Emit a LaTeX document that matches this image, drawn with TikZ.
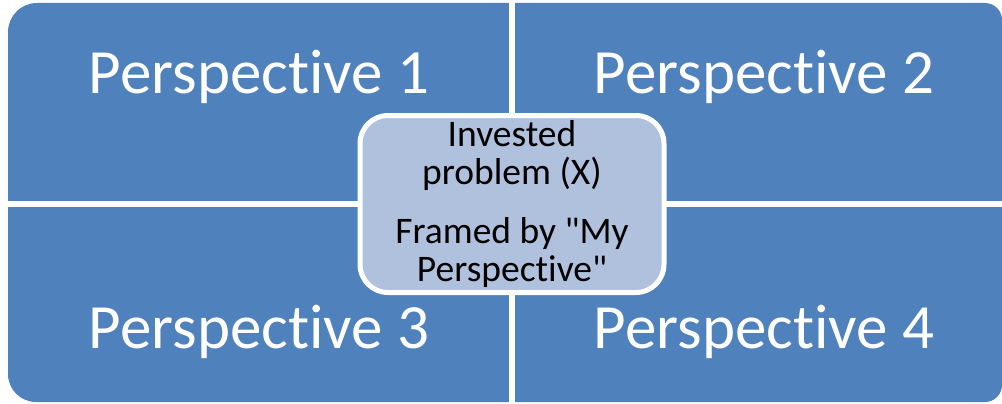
\documentclass[tikz,border=0pt]{standalone}
\usepackage{fontspec}
\setmainfont{Carlito}[Ligatures={NoCommon,TeXOff}]
\definecolor{quadblue}{RGB}{79,129,189}
\definecolor{probfill}{RGB}{176,193,222}

\begin{document}
\begin{tikzpicture}[x=1pt,y=-1pt]
\tikzstyle{every node}+=[inner sep=0pt]
\tikzstyle{persp}=[text=white,font=\fontsize{63}{70}\selectfont,anchor=base]
\tikzstyle{gap}=[white,line width=6pt]
\tikzstyle{probbox}=[draw=white,line width=5pt,fill=probfill,rounded corners=28pt,minimum width=304pt,minimum height=177pt,align=center,font=\fontsize{37.5}{38}\selectfont]
\useasboundingbox (0,0) rectangle (1002,404);
% blue field
\fill [quadblue] (8,32) arc (180:270:29) -- (985,3) arc (270:360:17) -- (1002,385) arc (0:90:17) -- (36,402) arc (90:180:28) -- cycle;
\draw [gap] (512,0) -- (512,404);
\draw [gap] (0,204) -- (1002,204);
% quadrant labels
\node [persp] (p1) at (259,93) {Perspective 1};
\node [persp] (p2) at (764,93) {Perspective 2};
\node [persp] (p3) at (259,348) {Perspective 3};
\node [persp] (p4) at (764,348) {Perspective 4};
% centre
\node [probbox] (prob) at (512,204) {Invested\\problem (X)\\[21pt]Framed by "My\\Perspective"};
\end{tikzpicture}
\end{document}
